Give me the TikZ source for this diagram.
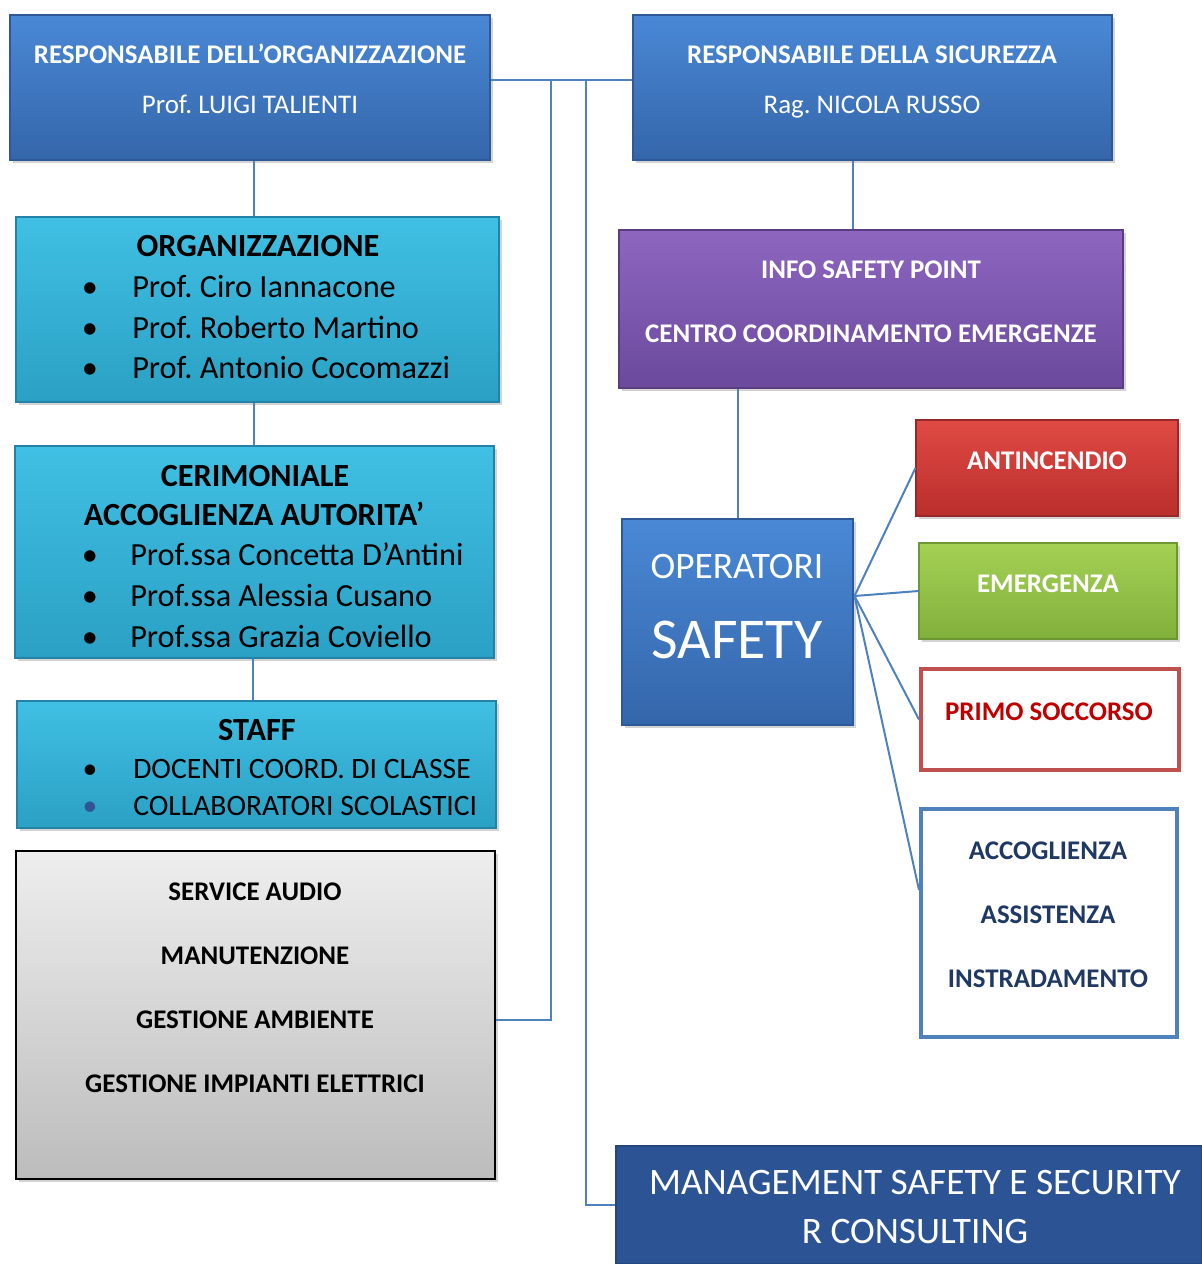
\documentclass[tikz,border=0pt]{standalone}
\usepackage{fontspec}
\setmainfont{Carlito}
\usetikzlibrary{fit}
\usetikzlibrary{calc}
\usetikzlibrary{shadows}
\frenchspacing

\definecolor{linkblue}{RGB}{79,129,189}
\definecolor{navy}{RGB}{31,56,100}
\definecolor{darkred}{RGB}{192,0,0}

\newcommand{\fsA}{\fontsize{20.2}{24}\selectfont}
\newcommand{\fsB}{\fontsize{24.2}{29}\selectfont}
\newcommand{\fsC}{\fontsize{22.2}{26}\selectfont}
\newcommand{\fsD}{\fontsize{28}{33}\selectfont}
\newcommand{\fsE}{\fontsize{43.3}{50}\selectfont}

\begin{document}
\begin{tikzpicture}[x=0.75pt,y=-0.75pt,
  box/.style={rectangle,inner sep=0pt,line width=0.8pt,
    drop shadow={opacity=0.35,shadow xshift=2pt,shadow yshift=-2pt}},
  bluebox/.style={box,draw={rgb,255:red,45;green,90;blue,150},top color={rgb,255:red,74;green,136;blue,214},bottom color={rgb,255:red,52;green,102;blue,170}},
  cyanbox/.style={box,draw={rgb,255:red,35;green,130;blue,165},top color={rgb,255:red,64;green,192;blue,228},bottom color={rgb,255:red,42;green,160;blue,196}},
  purplebox/.style={box,draw={rgb,255:red,90;green,60;blue,130},top color={rgb,255:red,142;green,102;blue,192},bottom color={rgb,255:red,106;green,74;blue,156}},
  redbox/.style={box,draw={rgb,255:red,150;green,40;blue,40},top color={rgb,255:red,224;green,74;blue,68},bottom color={rgb,255:red,186;green,46;blue,44}},
  greenbox/.style={box,draw={rgb,255:red,110;green,150;blue,50},top color={rgb,255:red,164;green,208;blue,84},bottom color={rgb,255:red,130;green,176;blue,60}},
  graybox/.style={box,draw=black,line width=1.5pt,top color={rgb,255:red,238;green,238;blue,238},bottom color={rgb,255:red,188;green,188;blue,188}},
  framebox/.style={rectangle,inner sep=0pt,line width=3pt,fill=white},
  navybox/.style={box,draw={rgb,255:red,35;green,70;blue,125},fill={rgb,255:red,44;green,84;blue,148}},
  txt/.style={inner sep=0pt,anchor=base},
  ltxt/.style={inner sep=0pt,anchor=base west},
  link/.style={draw=linkblue,line width=1.5pt}]
\useasboundingbox (0,0) rectangle (1202,1264);

% Boxes, left column
\node[bluebox, fit={(10,15) (490,160)}] (resporg) {};
\node[cyanbox, fit={(16,217) (499,402)}] (org) {};
\node[cyanbox, fit={(15,446) (494,658)}] (cer) {};
\node[cyanbox, fit={(17,701) (496,828)}] (staff) {};
\node[graybox, fit={(16,851) (495,1179)}] (service) {};

% Boxes, right column
\node[bluebox, fit={(633,15) (1112,160)}] (respsic) {};
\node[purplebox, fit={(619,230) (1123,388)}] (info) {};
\node[bluebox, fit={(622,519) (853,725)}] (ops) {};
\node[redbox, fit={(916,420) (1178,516)}] (antin) {};
\node[greenbox, fit={(919,543) (1177,639)}] (emerg) {};
\node[framebox, draw={rgb,255:red,192;green,80;blue,77}, fit={(921,669) (1179,770)}] (primo) {};
\node[framebox, draw=linkblue, fit={(921,809) (1177,1037)}] (accog) {};
\node[navybox, fit={(616,1146) (1202,1264)}] (mgmt) {};

% Connectors
\coordinate (bus) at (551,80);
\coordinate (bus2) at (586,80);
\draw[link] (resporg.east |- bus) -- (respsic.west |- bus);
\draw[link] (bus) |- (service.east |- 0,1020);
\draw[link] (bus2) |- (mgmt.west);
\draw[link] (resporg.south -| 254,0) -- (org.north -| 254,0);
\draw[link] (org.south -| 254,0) -- (cer.north -| 254,0);
\draw[link] (cer.south -| 253,0) -- (staff.north -| 253,0);
\draw[link] (respsic.south -| 853,0) -- (info.north -| 853,0);
\draw[link] (info.south -| ops.north) -- (ops.north);
\coordinate (fan) at ($(ops.east)+(1,-26)$);
\draw[link] (fan) -- (antin.west);
\draw[link] (fan) -- (emerg.west);
\draw[link] (fan) -- (primo.west);
\draw[link] (fan) -- ($(accog.west)+(0,-33)$);

% Text Node
\node[txt, text=white] (t1) at (250,63) {\fsA\bfseries RESPONSABILE DELL’ORGANIZZAZIONE};
\node[txt, text=white] (t2) at (250,113) {\fsA Prof. LUIGI TALIENTI};
\node[txt, text=white] (t3) at (872,63) {\fsA\bfseries RESPONSABILE DELLA SICUREZZA};
\node[txt, text=white] (t4) at (872,113) {\fsA Rag. NICOLA RUSSO};

% Text Node
\node[txt] (t5) at (258,256) {\fsB\bfseries ORGANIZZAZIONE};
\foreach \n/\yy/\who in {a/297/Prof. Ciro Iannacone, b/338/Prof. Roberto Martino, c/378/Prof. Antonio Cocomazzi} {
  \node[txt] (orgb\n) at (90,\yy) {\fsB •};
  \node[ltxt] (orgt\n) at (132,\yy) {\fsB \who};
}

% Text Node
\node[txt] (t6) at (255,486) {\fsB\bfseries CERIMONIALE};
\node[txt] (t7) at (254,525) {\fsB\bfseries ACCOGLIENZA AUTORITA’};
\foreach \n/\yy/\who in {a/565/Prof.ssa Concetta D’Antini, b/606/Prof.ssa Alessia Cusano, c/647/Prof.ssa Grazia Coviello} {
  \node[txt] (cerb\n) at (90,\yy) {\fsB •};
  \node[ltxt] (cert\n) at (130,\yy) {\fsB \who};
}

% Text Node
\node[txt] (t8) at (257,740) {\fsB\bfseries STAFF};
\node[txt] (staffba) at (90,778) {\fsC •};
\node[ltxt] (staffta) at (133,778) {\fsC DOCENTI COORD. DI CLASSE};
\node[txt, text={rgb,255:red,47;green,85;blue,151}] (staffbb) at (90,815) {\fsC •};
\node[ltxt] (stafftb) at (133,815) {\fsC COLLABORATORI SCOLASTICI};

% Text Node
\foreach \n/\yy/\what in {a/900/SERVICE AUDIO, b/964/MANUTENZIONE, c/1028/GESTIONE AMBIENTE, d/1092/GESTIONE IMPIANTI ELETTRICI}
  \node[txt] (serv\n) at (255,\yy) {\fsA\bfseries \what};

% Text Node
\node[txt, text=white] (t9) at (871,278) {\fsA\bfseries INFO SAFETY POINT};
\node[txt, text=white] (t10) at (871,342) {\fsA\bfseries CENTRO COORDINAMENTO EMERGENZE};
\node[txt, text=white] (t11) at (737,578) {\fsD OPERATORI};
\node[txt, text=white] (t12) at (737,658) {\fsE SAFETY};

% Text Node
\node[txt, text=white] (t13) at (1047,469) {\fsA\bfseries ANTINCENDIO};
\node[txt, text=white] (t14) at (1048,592) {\fsA\bfseries EMERGENZA};
\node[txt, text=darkred] (t15) at (1049,720) {\fsA\bfseries PRIMO SOCCORSO};
\foreach \n/\yy/\what in {a/859/ACCOGLIENZA, b/923/ASSISTENZA, c/987/INSTRADAMENTO}
  \node[txt, text=navy] (acc\n) at (1048,\yy) {\fsA\bfseries \what};

% Text Node
\node[txt, text=white] (t16) at (915,1194) {\fsD MANAGEMENT SAFETY E SECURITY};
\node[txt, text=white] (t17) at (915,1243) {\fsD R CONSULTING};

\end{tikzpicture}
\end{document}
